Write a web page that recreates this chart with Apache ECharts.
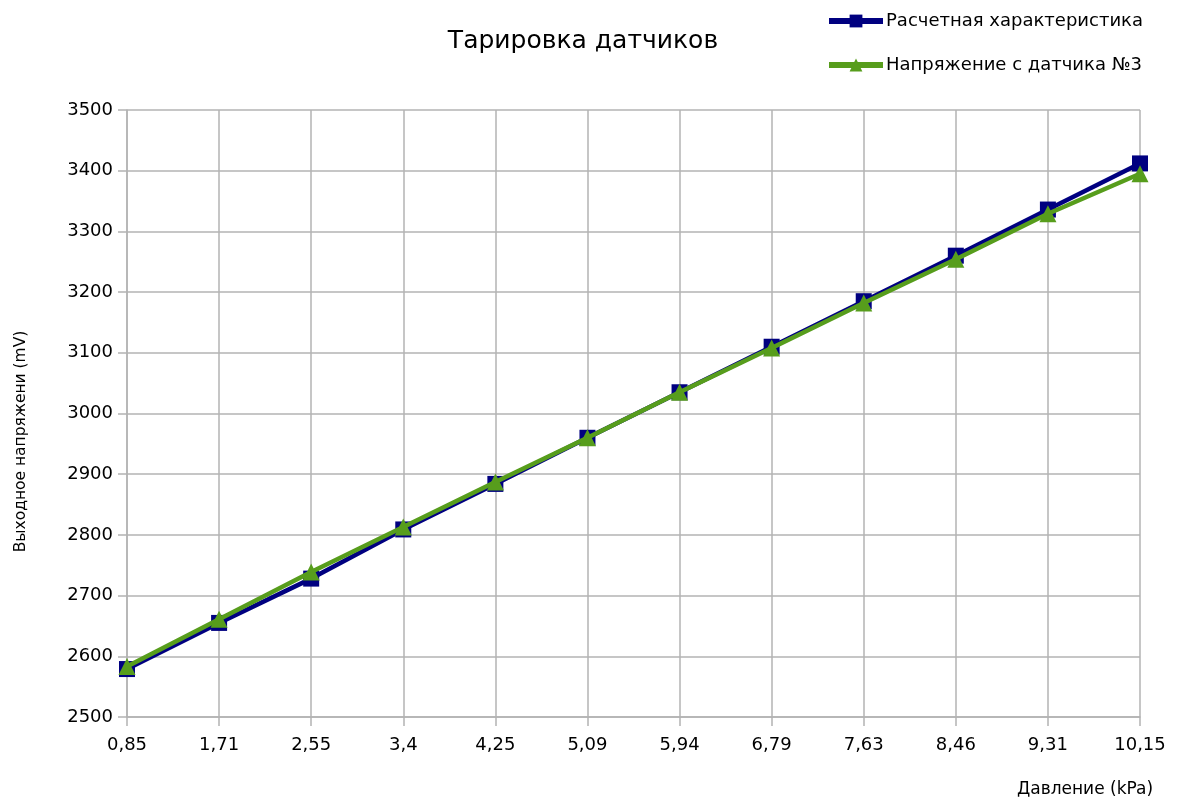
<!DOCTYPE html>
<html>
<head>
<meta charset="utf-8">
<script src="https://cdn.jsdelivr.net/npm/echarts@6/dist/echarts.min.js"></script>
<style>
  html, body { margin: 0; padding: 0; background: #fff; }
  #chart { width: 1186px; height: 802px; }
</style>
</head>
<body>
<div id="chart"></div>
<script>
// Pressure points (kPa)
const pressure = ['0,85', '1,71', '2,55', '3,4', '4,25', '5,09', '5,94', '6,79', '7,63', '8,46', '9,31', '10,15'];
// Calculated characteristic (mV)
const calculated = [2579, 2655, 2728, 2809, 2884, 2960, 3035, 3110, 3185, 3260, 3336, 3412];
// Sensor #3 output (mV)
const sensor3 = [2583, 2661, 2739, 2813, 2887, 2960, 3035, 3108, 3182, 3254, 3329, 3395];

const seriesNames = ['Расчетная характеристика', 'Напряжение с датчика №3'];
const font = 'DejaVu Sans';
const gridColor = '#b3b3b3';

const chart = echarts.init(document.getElementById('chart'));
chart.setOption({
  animation: false,
  backgroundColor: '#ffffff',
  title: {
    text: 'Тарировка датчиков',
    left: 578,
    top: 24,
    textAlign: 'center',
    textStyle: { fontFamily: font, fontSize: 25, fontWeight: 'normal', color: '#000' }
  },
  legend: {
    orient: 'vertical',
    left: 826,
    top: 12,
    padding: 0,
    itemGap: 26,
    itemWidth: 54,
    itemHeight: 16,
    lineStyle: { width: 6 },
    textStyle: { fontFamily: font, fontSize: 18, color: '#000', padding: [0, 0, 0, -2] },
    data: seriesNames
  },
  grid: { left: 127, right: 46, top: 110, bottom: 85, containLabel: false },
  xAxis: {
    type: 'category',
    data: pressure,
    boundaryGap: false,
    name: 'Давление (kPa)',
    nameLocation: 'end',
    nameGap: 0,
    nameTextStyle: { fontFamily: font, fontSize: 17, color: '#000', align: 'center', verticalAlign: 'top', padding: [64, 0, 0, -110] },
    axisLine: { lineStyle: { color: gridColor, width: 1.5 } },
    axisTick: { show: true, length: 9, alignWithLabel: true, lineStyle: { color: gridColor, width: 1.5 } },
    axisLabel: { fontFamily: font, fontSize: 18, color: '#000', margin: 19, interval: 0 },
    splitLine: { show: true, lineStyle: { color: gridColor, width: 1.5 } }
  },
  yAxis: {
    type: 'value',
    min: 2500,
    max: 3500,
    interval: 100,
    name: 'Выходное напряжени (mV)',
    nameLocation: 'middle',
    nameGap: 98,
    nameTextStyle: { fontFamily: font, fontSize: 15.5, color: '#000', padding: [0, 56, 0, 0] },
    axisLine: { show: true, lineStyle: { color: gridColor, width: 1.5 } },
    axisTick: { show: true, length: 9, lineStyle: { color: gridColor, width: 1.5 } },
    axisLabel: { fontFamily: font, fontSize: 18, color: '#000', margin: 14, formatter: v => String(v) },
    splitLine: { show: true, lineStyle: { color: gridColor, width: 1.5 } }
  },
  series: [
    {
      name: seriesNames[0],
      type: 'line',
      data: calculated,
      symbol: 'rect',
      symbolSize: 16,
      color: '#000080',
      lineStyle: { color: '#000080', width: 4.5 },
      itemStyle: { color: '#000080' },
      z: 2
    },
    {
      name: seriesNames[1],
      type: 'line',
      data: sensor3,
      symbol: 'triangle',
      symbolSize: 17,
      color: '#579d1c',
      lineStyle: { color: '#579d1c', width: 4.5 },
      itemStyle: { color: '#579d1c' },
      z: 3
    }
  ]
});
</script>
</body>
</html>
